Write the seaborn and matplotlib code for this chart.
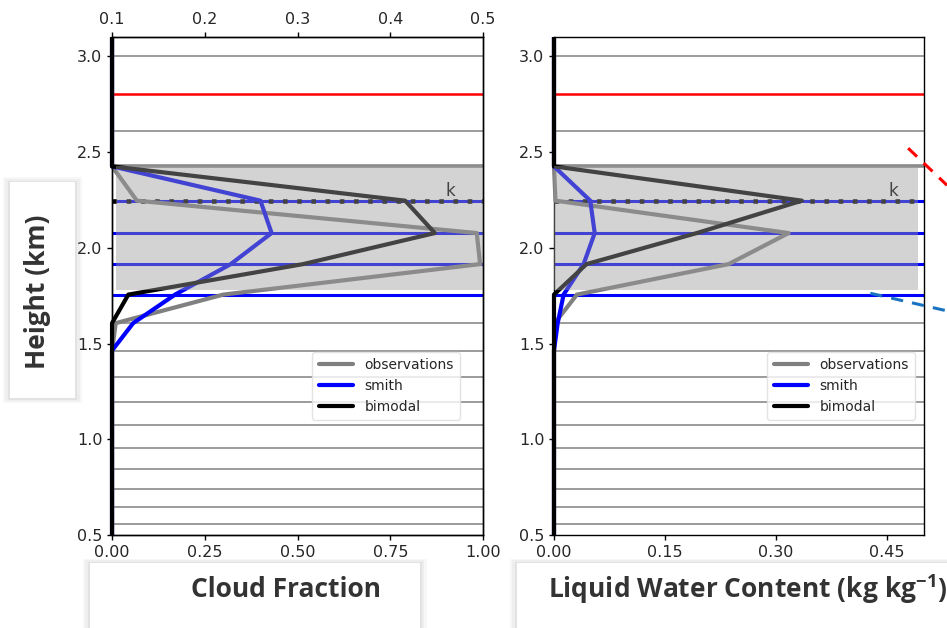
import numpy as np
import pandas as pd
import seaborn as sns
import matplotlib.pyplot as plt
from matplotlib.patches import Rectangle
from matplotlib.lines import Line2D

sns.set_theme(style="ticks")
plt.rcParams["font.family"] = ["DejaVu Sans"]
plt.rcParams["mathtext.fontset"] = "custom"
plt.rcParams["mathtext.rm"] = "Open Sans:bold"

# model levels (km), bottom to top
heights = [0.475, 0.557, 0.646, 0.742, 0.845, 0.954, 1.074, 1.196, 1.328, 1.464,
           1.607, 1.756, 1.915, 2.077, 2.246, 2.425, 2.608, 2.80, 3.0, 3.205]
red_level = [2.80]
blue_levels = [1.756, 1.915, 2.077, 2.246]
top_level = [2.425]
k_level = 2.246
cloud_base, cloud_top = 1.78, 2.425

# cloud fraction profiles
cf_obs     = [0, 0, 0, 0, 0, 0, 0, 0, 0, 0, 0.01, 0.30, 0.992, 0.983, 0.067, 0, 0, 0, 0, 0]
cf_smith   = [0, 0, 0, 0, 0, 0, 0, 0, 0, 0, 0.057, 0.17, 0.32, 0.43, 0.40, 0, 0, 0, 0, 0]
cf_bimodal = [0, 0, 0, 0, 0, 0, 0, 0, 0, 0, 0, 0.044, 0.515, 0.87, 0.79, 0, 0, 0, 0, 0]

# liquid water content profiles
lwc_obs     = [0, 0, 0, 0, 0, 0, 0, 0, 0, 0, 0.001, 0.031, 0.236, 0.317, 0.002, 0, 0, 0, 0, 0]
lwc_smith   = [0, 0, 0, 0, 0, 0, 0, 0, 0, 0, 0.005, 0.013, 0.04, 0.055, 0.049, 0, 0, 0, 0, 0]
lwc_bimodal = [0, 0, 0, 0, 0, 0, 0, 0, 0, 0, 0, 0.0, 0.044, 0.193, 0.335, 0, 0, 0, 0, 0]

models = ["observations", "smith", "bimodal"]
palette = {"observations": "#808080", "smith": "blue", "bimodal": "black"}

def long_df(obs, smith, bimodal):
    frames = []
    for name, vals in zip(models, [obs, smith, bimodal]):
        frames.append(pd.DataFrame({"value": vals, "height": heights, "model": name}))
    return pd.concat(frames, ignore_index=True)

cf_df = long_df(cf_obs, cf_smith, cf_bimodal)
lwc_df = long_df(lwc_obs, lwc_smith, lwc_bimodal)

fig = plt.figure(figsize=(9.47, 6.28), dpi=100)
ax1 = fig.add_axes([0.1183, 0.1476, 0.3918, 0.7935])
ax2 = fig.add_axes([0.585, 0.1476, 0.3907, 0.7935])


def draw_panel(ax, df, xlim, box_x, kx, legend_x):
    for h in heights:
        if h in red_level or h in blue_levels or h in top_level:
            continue
        ax.axhline(h, color="#808080", lw=1.1, zorder=1)
    for h in red_level:
        ax.axhline(h, color="red", lw=1.8, zorder=1)
    for h in blue_levels:
        ax.axhline(h, color="blue", lw=2.2, zorder=1)
    for h in top_level:
        ax.axhline(h, color="#8a8a8a", lw=2.6, zorder=1)
    ax.axhline(k_level, color="black", lw=3.3, ls=(0, (1, 2.1)), zorder=2)
    ax.text(kx, k_level + 0.025, "k", fontsize=12, color="black", zorder=3)

    sns.lineplot(data=df, x="value", y="height", hue="model", palette=palette,
                 sort=False, estimator=None, lw=3, ax=ax, legend=False, zorder=4)

    # let the profiles sitting on x=0 show their full width
    clip = Rectangle((-0.03, 0), 1.06, 1, transform=ax.transAxes)
    for ln in ax.lines[-3:]:
        ln.set_clip_path(clip)

    ax.axhspan(cloud_base, cloud_top, xmin=box_x[0], xmax=box_x[1],
               color="#9b9b9b", alpha=0.44, lw=0, zorder=10)

    ax.set_xlim(*xlim)
    ax.set_ylim(0.5, 3.1)
    ax.set_yticks([0.5, 1.0, 1.5, 2.0, 2.5, 3.0])
    ax.set_xlabel("")
    ax.set_ylabel("")
    for s in ax.spines.values():
        s.set_visible(True)
        s.set_linewidth(1.0)
        s.set_color("black")
    ax.tick_params(labelsize=11.5, length=3.5, width=1, color="black")

    handles = [Line2D([], [], color=palette[m], lw=3) for m in models]
    leg = ax.legend(handles, models, loc="lower right", bbox_to_anchor=legend_x,
                    fontsize=10, frameon=True, handlelength=2.5,
                    borderpad=0.45, labelspacing=0.5)
    leg.get_frame().set_edgecolor("#dddddd")
    leg.set_zorder(20)


draw_panel(ax1, cf_df, (0, 1), (0.012, 1.0), 0.9, (0.957, 0.217))
ax1.set_xticks([0, 0.25, 0.5, 0.75, 1.0])
ax1.set_xticklabels(["0.00", "0.25", "0.50", "0.75", "1.00"])

top = ax1.twiny()
top.set_xlim(0.1, 0.5)
top.set_xticks([0.1, 0.2, 0.3, 0.4, 0.5])
top.set_xticklabels(["0.1", "0.2", "0.3", "0.4", "0.5"])
top.tick_params(labelsize=11.5, length=3.5, width=1, color="black")
for s in top.spines.values():
    s.set_linewidth(1.0)
    s.set_color("black")

draw_panel(ax2, lwc_df, (0, 0.5), (0.0, 0.985), 0.452, (0.995, 0.217))
ax2.set_xticks([0, 0.15, 0.30, 0.45])
ax2.set_xticklabels(["0.00", "0.15", "0.30", "0.45"])

# slide-style label boxes
def label_box(x, y, w, h):
    for i, a in enumerate([0.10, 0.08, 0.06]):
        d = (i + 1) * 0.0025
        fig.add_artist(Rectangle((x - d, y - d), w + 2 * d, h + 2 * d,
                                 transform=fig.transFigure, facecolor="gray",
                                 edgecolor="none", alpha=a, zorder=30))
    fig.add_artist(Rectangle((x, y), w, h, transform=fig.transFigure,
                             facecolor="white", edgecolor="none", zorder=31))

label_box(0.095, -0.05, 0.348, 0.153)
label_box(0.546, -0.05, 0.48, 0.153)
label_box(0.0106, 0.366, 0.0686, 0.344)

txt = dict(family=["Open Sans", "DejaVu Sans"], fontweight="bold",
           color="#333333", zorder=32)
fig.text(0.302, 0.062, "Cloud Fraction", fontsize=19, ha="center", va="center", **txt)
fig.text(0.789, 0.062, "Liquid Water Content (kg kg$^{-1}$)", fontsize=19,
         ha="center", va="center", **txt)
fig.text(0.040, 0.536, "Height (km)", fontsize=19, rotation=90,
         ha="center", va="center", **txt)

# dashed callout lines off the right edge
fig.add_artist(Line2D([0.959, 1.0], [0.764, 0.705], transform=fig.transFigure,
                      color="red", lw=2.2, ls=(0, (4, 3))))
fig.add_artist(Line2D([0.919, 1.0], [0.533, 0.505], transform=fig.transFigure,
                      color="#1a73c0", lw=2.2, ls=(0, (4, 3))))

fig.savefig("out.png", dpi=100)
